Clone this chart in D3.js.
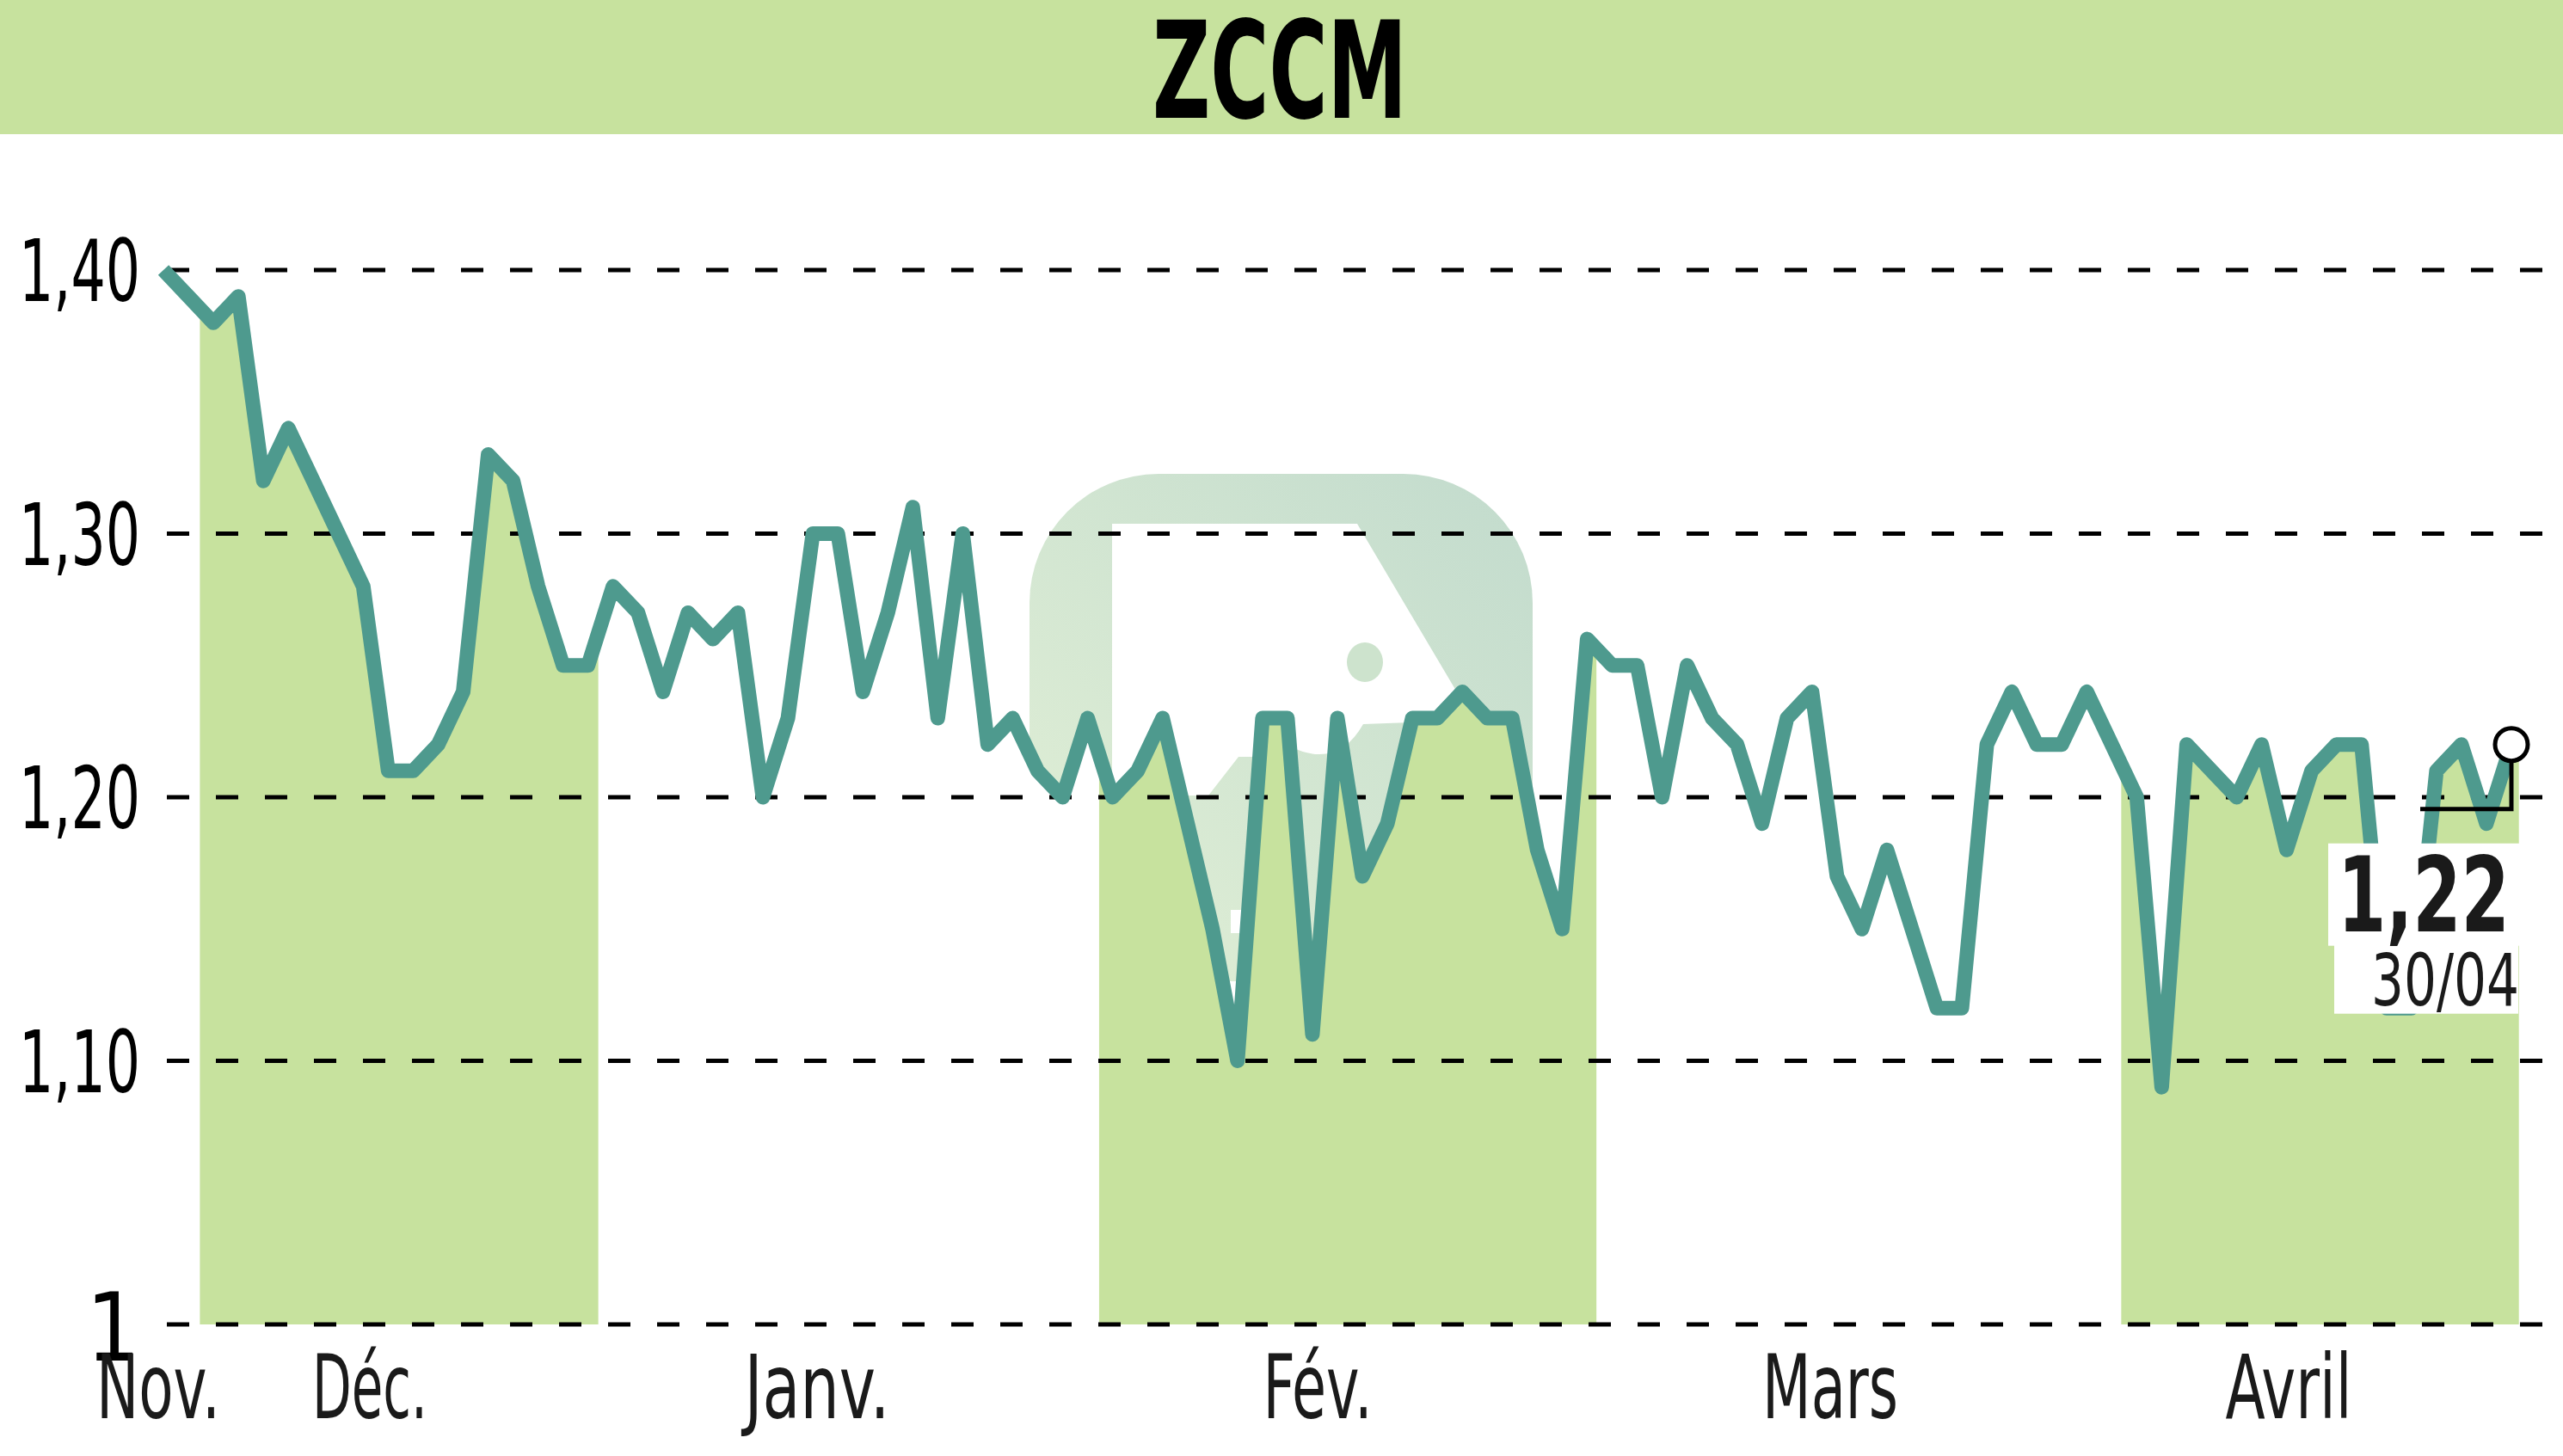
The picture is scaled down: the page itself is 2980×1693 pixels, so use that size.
<!DOCTYPE html>
<html>
<head>
<meta charset="utf-8">
<script src="https://cdn.jsdelivr.net/npm/d3@7"></script>
<style>
  html, body { margin: 0; padding: 0; background: #ffffff; }
  svg { display: block; }
</style>
</head>
<body>
<svg id="chart" width="2980" height="1693"></svg>
<script>
// ---- data ----
const title = "ZCCM";
const prices = [
  1.40, 1.39, 1.38, 1.39, 1.32, 1.34, 1.32, 1.30, 1.28, 1.21,
  1.21, 1.22, 1.24, 1.33, 1.32, 1.28, 1.25, 1.25, 1.28, 1.27,
  1.24, 1.27, 1.26, 1.27, 1.20, 1.23, 1.30, 1.30, 1.24, 1.27,
  1.31, 1.23, 1.30, 1.22, 1.23, 1.21, 1.20, 1.23, 1.20, 1.21,
  1.23, 1.19, 1.15, 1.10, 1.23, 1.23, 1.11, 1.23, 1.17, 1.19,
  1.23, 1.23, 1.24, 1.23, 1.23, 1.18, 1.15, 1.26, 1.25, 1.25,
  1.20, 1.25, 1.23, 1.22, 1.19, 1.23, 1.24, 1.17, 1.15, 1.18,
  1.15, 1.12, 1.12, 1.22, 1.24, 1.22, 1.22, 1.24, 1.22, 1.20,
  1.09, 1.22, 1.21, 1.20, 1.22, 1.18, 1.21, 1.22, 1.22, 1.12,
  1.12, 1.21, 1.22, 1.19, 1.22
];
const monthLabels = ["Nov.", "Déc.", "Janv.", "Fév.", "Mars", "Avril"];
const monthLabelIdx = [-0.21, 8.26, 26.17, 46.21, 66.73, 85.08];
const shadedMonths = [[1.46, 17.41], [37.46, 57.37], [78.38, 94.3]];
const yTicks = [1, 1.1, 1.2, 1.3, 1.4];
const yTickLabels = ["1", "1,10", "1,20", "1,30", "1,40"];
const lastValueLabel = "1,22";
const lastDateLabel = "30/04";

// ---- styles ----
const GREEN = "#c7e29e";
const LINE = "#4e9a8e";
const FONT = "'Liberation Sans Narrow', 'DejaVu Sans Condensed', 'Roboto', sans-serif";

const svg = d3.select("#chart");
const W = 2980, H = 1693;
const n = prices.length;

const x = d3.scaleLinear().domain([0, n - 1]).range([190, 2920]);
const y = d3.scaleLinear().domain([1, 1.4]).range([1540, 314]);

const defs = svg.append("defs");

// banner
svg.append("rect").attr("x", 0).attr("y", 0).attr("width", W).attr("height", 156).attr("fill", GREEN);
svg.append("text")
  .attr("x", 1488).attr("y", 137)
  .attr("text-anchor", "middle")
  .attr("font-family", FONT)
  .attr("font-weight", "bold")
  .attr("font-size", 157)
  .attr("textLength", 296)
  .attr("lengthAdjust", "spacingAndGlyphs")
  .attr("fill", "#000")
  .text(title);

// watermark (drawn behind the price area)
const grad = defs.append("linearGradient").attr("id", "wmgrad")
  .attr("x1", "0%").attr("y1", "100%").attr("x2", "100%").attr("y2", "0%");
grad.append("stop").attr("offset", "0%").attr("stop-color", "#e2f0d6");
grad.append("stop").attr("offset", "100%").attr("stop-color", "#c2dbcd");
const wm = svg.append("g");
wm.append("rect").attr("x", 1197).attr("y", 551).attr("width", 585).attr("height", 590)
  .attr("rx", 150).attr("fill", "url(#wmgrad)");
wm.append("path")
  .attr("d", "M1293,609 L1578,609 L1700,815 L1640,840 L1585,842 Q1555,895 1500,868 L1470,868 L1470,880 L1440,880 L1405,925 L1293,925 Z")
  .attr("fill", "#ffffff");
wm.append("path")
  .attr("d", "M1470,1058 L1462,1058 L1462,1085 L1431,1085 L1431,1058 Z")
  .attr("fill", "#ffffff");
wm.append("ellipse").attr("cx", 1587).attr("cy", 770).attr("rx", 21).attr("ry", 23)
  .attr("fill", "#cde3cd");

// area under the line: white everywhere, green inside shaded months
const area = d3.area()
  .x((d, i) => x(i))
  .y0(y(1))
  .y1(d => y(d));
svg.append("path").datum(prices).attr("d", area).attr("fill", "#ffffff");

const clip = defs.append("clipPath").attr("id", "bandclip");
clip.selectAll("rect").data(shadedMonths).join("rect")
  .attr("x", d => x(d[0]))
  .attr("width", d => x(d[1]) - x(d[0]))
  .attr("y", 0).attr("height", y(1));
svg.append("path")
  .datum(prices)
  .attr("d", area)
  .attr("fill", GREEN)
  .attr("clip-path", "url(#bandclip)");
// last band continues a little past the final point
const lastBand = shadedMonths[shadedMonths.length - 1];
svg.append("rect")
  .attr("x", x(n - 1))
  .attr("width", x(lastBand[1]) - x(n - 1))
  .attr("y", y(prices[n - 1]))
  .attr("height", y(1) - y(prices[n - 1]))
  .attr("fill", GREEN);

// gridlines
svg.append("g").selectAll("line").data(yTicks).join("line")
  .attr("x1", 194).attr("x2", W)
  .attr("y1", d => y(d)).attr("y2", d => y(d))
  .attr("stroke", "#000").attr("stroke-width", 5)
  .attr("stroke-dasharray", "26 31");

// y labels
svg.append("g").selectAll("text").data(yTicks).join("text")
  .attr("x", 163)
  .attr("y", (d, i) => y(d) + (yTickLabels[i].length > 1 ? 36 : 42))
  .attr("text-anchor", "end")
  .attr("font-family", FONT)
  .attr("font-size", (d, i) => yTickLabels[i].length > 1 ? 100 : 110)
  .attr("fill", "#000")
  .each(function(d, i) {
    const t = d3.select(this).text(yTickLabels[i]);
    if (yTickLabels[i].length > 1) t.attr("textLength", 141).attr("lengthAdjust", "spacingAndGlyphs");
  });

// x labels
const xLabelWidths = [144, 134, 169, 127, 158, 147];
svg.append("g").selectAll("text").data(monthLabels).join("text")
  .attr("x", (d, i) => x(monthLabelIdx[i]))
  .attr("y", 1649)
  .attr("text-anchor", "middle")
  .attr("font-family", FONT)
  .attr("font-size", 104)
  .attr("fill", "#1a1a1a")
  .attr("textLength", (d, i) => xLabelWidths[i])
  .attr("lengthAdjust", "spacingAndGlyphs")
  .text(d => d);

// price line
const line = d3.line().x((d, i) => x(i)).y(d => y(d));
svg.append("path")
  .datum(prices)
  .attr("d", line)
  .attr("fill", "none")
  .attr("stroke", LINE)
  .attr("stroke-width", 17)
  .attr("stroke-linejoin", "round");

// last value marker + label
const lx = x(n - 1), ly = y(prices[n - 1]);
svg.append("rect").attr("x", lx - 213).attr("y", ly + 115).attr("width", 224).attr("height", 119).attr("fill", "#fff");
svg.append("rect").attr("x", lx - 206).attr("y", ly + 233).attr("width", 214).attr("height", 80).attr("fill", "#fff");
svg.append("path")
  .attr("d", `M${lx},${ly + 20} V${ly + 75} H${lx - 106}`)
  .attr("fill", "none").attr("stroke", "#000").attr("stroke-width", 5);
svg.append("circle").attr("cx", lx).attr("cy", ly).attr("r", 19)
  .attr("fill", "#fff").attr("stroke", "#000").attr("stroke-width", 5);
svg.append("text")
  .attr("x", lx - 2).attr("y", ly + 217)
  .attr("text-anchor", "end")
  .attr("font-family", FONT).attr("font-weight", "bold").attr("font-size", 122)
  .attr("textLength", 200).attr("lengthAdjust", "spacingAndGlyphs")
  .attr("fill", "#1a1a1a")
  .text(lastValueLabel);
svg.append("text")
  .attr("x", lx + 9).attr("y", ly + 303)
  .attr("text-anchor", "end")
  .attr("font-family", FONT).attr("font-size", 84)
  .attr("textLength", 172).attr("lengthAdjust", "spacingAndGlyphs")
  .attr("fill", "#1a1a1a")
  .text(lastDateLabel);
</script>
</body>
</html>
